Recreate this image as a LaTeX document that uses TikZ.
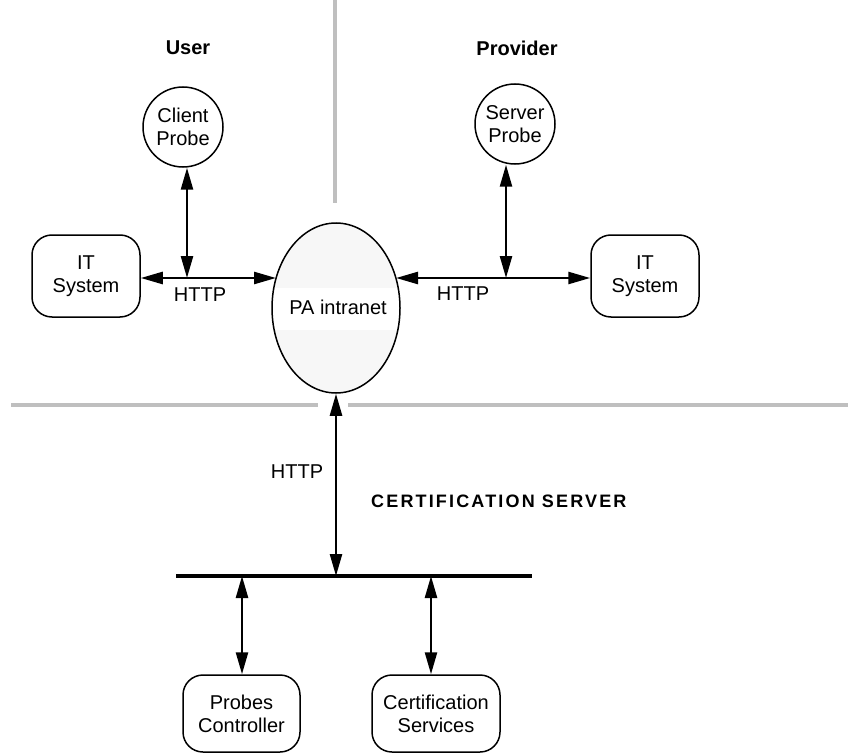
\documentclass[tikz,border=0pt]{standalone}
\usepackage{fontspec}
\setmainfont{Liberation Sans}
\newfontfamily\spacedbf[LetterSpace=12]{Liberation Sans}
\usetikzlibrary{arrows.meta,shapes.geometric}
\begin{document}
\begin{tikzpicture}[x=1pt,y=-1pt,
  lbl/.style={font=\fontsize{20}{23}\selectfont, align=center, inner sep=0pt},
  box/.style={lbl, draw, line width=1.5pt, rounded corners=20pt, minimum width=108pt, minimum height=82pt},
  probe/.style={lbl, draw, circle, line width=1.5pt, minimum size=80pt},
  conn/.style={line width=2.5pt, {Triangle[length=22pt,width=12pt]}-{Triangle[length=22pt,width=12pt]}},
  sep/.style={draw=black!25, line width=4pt},
  head/.style={font=\fontsize{20}{23}\selectfont\bfseries, inner sep=0pt},
  ]
\useasboundingbox (0,0) rectangle (848,754);

% separators
\coordinate (vt) at (335,0);
\coordinate (vb) at (335,203);
\coordinate (h1) at (11,405);
\coordinate (h2) at (318,405);
\coordinate (h3) at (348,405);
\coordinate (h4) at (848,405);
\draw[sep] (vt) -- (vb);
\draw[sep] (h1) -- (h2);
\draw[sep] (h3) -- (h4);

% headings
\node[head] (user) at (188,48) {User};
\node[head] (prov) at (517,48) {Provider};
\node[font=\fontsize{18}{20}\selectfont\spacedbf\bfseries, inner sep=0pt, anchor=west] (cert) at (371,501) {CERTIFICATION SERVER};

% PA intranet ellipse
\fill[black!3] (336,308) ellipse [x radius=64, y radius=85];
\begin{scope}
  \clip (336,308) ellipse [x radius=64, y radius=85];
  \fill[white] (270,288) rectangle (402,330);
\end{scope}
\node[lbl, ellipse, draw, line width=1.5pt, minimum width=128pt, minimum height=170pt] (pa) at (336,308) {};
\node[lbl] (patext) at (338,307) {PA intranet};

% probes
\node[probe] (cp) at (183,127) {Client\\Probe};
\node[probe] (sp) at (515,124) {Server\\Probe};

% IT systems
\node[box] (itl) at (86,276) {IT\\System};
\node[box] (itr) at (645,276) {IT\\System};

% junctions and ellipse border points
\coordinate (jl) at (187,278);
\coordinate (jr) at (506,278);
\coordinate (pal) at (276,278);
\coordinate (par) at (396,278);

\draw[conn] (itl.east |- jl) -- (pal);
\draw[conn] (par) -- (itr.west |- jr);
\draw[conn] (cp.south -| jl) -- (jl);
\draw[conn] (sp.south -| jr) -- (jr);

\node[lbl] (httpl) at (200,295) {HTTP};
\node[lbl] (httpr) at (463,294) {HTTP};

% bus
\coordinate (busl) at (176,576);
\coordinate (busr) at (532,576);
\draw[line width=4pt] (busl) -- (busr);
\coordinate (bc) at (336,576);
\coordinate (b1) at (242,576);
\coordinate (b2) at (431,576);

\draw[conn] (pa.south) -- (bc);
\node[lbl] (httpb) at (297,472) {HTTP};

% bottom boxes
\node[box, minimum width=117pt, minimum height=77pt] (pc) at (241.5,713.5) {Probes\\Controller};
\node[box, minimum width=128pt, minimum height=77pt] (cs) at (436,713.5) {Certification\\Services};

\draw[conn] (b1) -- (pc.north -| b1);
\draw[conn] (b2) -- (cs.north -| b2);
\end{tikzpicture}
\end{document}
